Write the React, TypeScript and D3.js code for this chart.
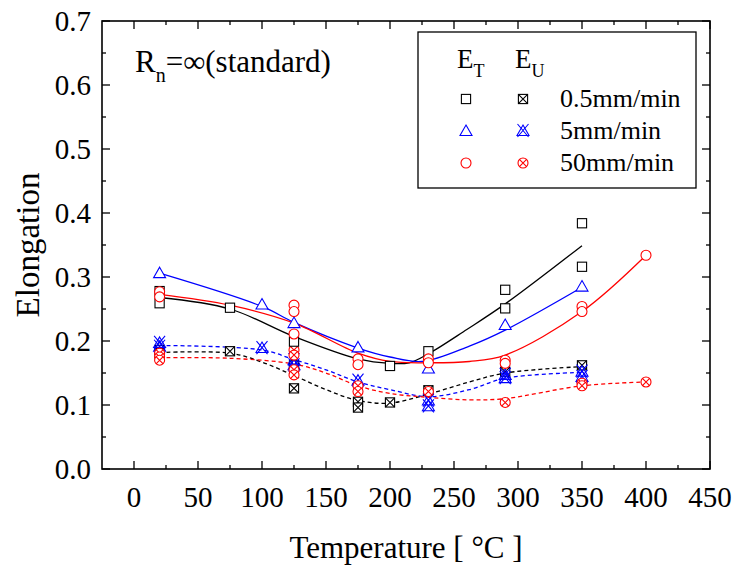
import React from "react";
import * as d3 from "d3";

// measured points: E_T (total elongation)
const etSlowT = [20, 20, 75, 125, 200, 230, 290, 290, 350, 350];
const etSlowE = [0.278, 0.259, 0.252, 0.199, 0.161, 0.184, 0.28, 0.251, 0.384, 0.316];
const etMidT = [20, 100, 125, 175, 230, 290, 350];
const etMidE = [0.306, 0.257, 0.228, 0.19, 0.157, 0.225, 0.285];
const etFastT = [20, 20, 125, 125, 125, 175, 175, 230, 230, 290, 290, 350, 350, 400];
const etFastE = [0.277, 0.269, 0.256, 0.246, 0.211, 0.172, 0.163, 0.172, 0.166, 0.17, 0.165, 0.254, 0.246, 0.334];

// measured points: E_U (uniform elongation)
const euSlowT = [20, 20, 75, 125, 125, 175, 175, 200, 230, 290, 350];
const euSlowE = [0.186, 0.181, 0.184, 0.162, 0.126, 0.105, 0.096, 0.104, 0.123, 0.152, 0.162];
const euMidT = [20, 20, 100, 125, 125, 175, 230, 230, 290, 290, 350, 350];
const euMidE = [0.197, 0.191, 0.189, 0.17, 0.162, 0.138, 0.107, 0.098, 0.147, 0.142, 0.152, 0.144];
const euFastT = [20, 20, 20, 125, 125, 125, 125, 175, 175, 230, 290, 350, 350, 400];
const euFastE = [0.181, 0.175, 0.17, 0.186, 0.178, 0.155, 0.147, 0.13, 0.121, 0.121, 0.104, 0.134, 0.13, 0.136];

// fitted curves
const fitEtSlowT = [20, 75, 125, 175, 200, 215, 230, 260, 290, 350];
const fitEtSlowE = [0.268, 0.25, 0.207, 0.172, 0.165, 0.166, 0.18, 0.218, 0.258, 0.349];
const fitEtMidT = [20, 100, 125, 175, 200, 225, 262, 290, 350];
const fitEtMidE = [0.306, 0.254, 0.229, 0.189, 0.175, 0.168, 0.192, 0.217, 0.284];
const fitEtFastT = [20, 75, 125, 175, 200, 230, 262, 290, 350, 400];
const fitEtFastE = [0.273, 0.256, 0.228, 0.181, 0.168, 0.166, 0.168, 0.178, 0.246, 0.334];
const fitEuSlowT = [20, 75, 100, 125, 150, 175, 200, 230, 262, 290, 350];
const fitEuSlowE = [0.182, 0.181, 0.167, 0.146, 0.124, 0.107, 0.103, 0.117, 0.136, 0.15, 0.16];
const fitEuMidT = [20, 100, 125, 150, 175, 200, 230, 262, 290, 350];
const fitEuMidE = [0.193, 0.186, 0.171, 0.155, 0.136, 0.124, 0.113, 0.124, 0.142, 0.151];
const fitEuFastT = [20, 75, 125, 150, 175, 200, 230, 262, 290, 350, 400];
const fitEuFastE = [0.174, 0.173, 0.164, 0.15, 0.13, 0.118, 0.112, 0.108, 0.11, 0.13, 0.136];

const rateLabels = ["0.5mm/min", "5mm/min", "50mm/min"];
const rateColors = ["#000000", "#0000ff", "#ff0000"];
const xTicks = [0, 50, 100, 150, 200, 250, 300, 350, 400, 450];
const yTicks = [0, 0.1, 0.2, 0.3, 0.4, 0.5, 0.6, 0.7];

const W = 736;
const H = 566;
const left = 102;
const right = 710;
const top = 21;
const bottom = 469;
const FONT = "Times New Roman, Times, Tinos, Liberation Serif, Nimbus Roman, FreeSerif, Noto Serif, DejaVu Serif, serif";

const x = d3.scaleLinear().domain([-25, 450]).range([left, right]);
const y = d3.scaleLinear().domain([0, 0.7]).range([bottom, top]);

type Kind = "square" | "triangle" | "circle";

function Marker({ kind, cx, cy, color, cross }: { kind: Kind; cx: number; cy: number; color: string; cross: boolean }) {
  const sw = 1.1;
  if (kind === "square") {
    const h = 4.6;
    return (
      <g stroke={color} strokeWidth={sw} fill="#fff">
        <rect x={cx - h} y={cy - h} width={2 * h} height={2 * h} />
        {cross && (
          <path d={`M${cx - h},${cy - h}L${cx + h},${cy + h}M${cx - h},${cy + h}L${cx + h},${cy - h}`} fill="none" />
        )}
      </g>
    );
  }
  if (kind === "triangle") {
    const h = 6;
    const tri = `M${cx},${cy - 6}L${cx + h},${cy + 4.5}L${cx - h},${cy + 4.5}Z`;
    return (
      <g stroke={color} strokeWidth={sw} fill={cross ? "none" : "#fff"}>
        <path d={tri} />
        {cross && (
          <path d={`M${cx - 5.5},${cy - 7}L${cx + 5.5},${cy + 6}M${cx - 5.5},${cy + 6}L${cx + 5.5},${cy - 7}`} />
        )}
      </g>
    );
  }
  const r = 5;
  const d = r * 0.72;
  return (
    <g stroke={color} strokeWidth={sw} fill="#fff">
      <circle cx={cx} cy={cy} r={r} />
      {cross && <path d={`M${cx - d},${cy - d}L${cx + d},${cy + d}M${cx - d},${cy + d}L${cx + d},${cy - d}`} />}
    </g>
  );
}

const line = d3
  .line<[number, number]>()
  .x((d) => x(d[0]))
  .y((d) => y(d[1]))
  .curve(d3.curveCatmullRom.alpha(0.5));

const zip = (a: number[], b: number[]) => a.map((v, i) => [v, b[i]] as [number, number]);

export default function App() {
  const fits = [
    { pts: zip(fitEtSlowT, fitEtSlowE), color: rateColors[0], dash: false },
    { pts: zip(fitEtMidT, fitEtMidE), color: rateColors[1], dash: false },
    { pts: zip(fitEtFastT, fitEtFastE), color: rateColors[2], dash: false },
    { pts: zip(fitEuSlowT, fitEuSlowE), color: rateColors[0], dash: true },
    { pts: zip(fitEuMidT, fitEuMidE), color: rateColors[1], dash: true },
    { pts: zip(fitEuFastT, fitEuFastE), color: rateColors[2], dash: true },
  ];
  const kinds: Kind[] = ["square", "triangle", "circle"];
  const points = [
    { pts: zip(euSlowT, euSlowE), k: 0, cross: true },
    { pts: zip(euMidT, euMidE), k: 1, cross: true },
    { pts: zip(euFastT, euFastE), k: 2, cross: true },
    { pts: zip(etSlowT, etSlowE), k: 0, cross: false },
    { pts: zip(etMidT, etMidE), k: 1, cross: false },
    { pts: zip(etFastT, etFastE), k: 2, cross: false },
  ];

  const xMinor = d3.range(25, 450, 50);
  const yMinor = d3.range(0.05, 0.7, 0.1);

  return (
    <svg width={W} height={H} style={{ display: "block", position: "absolute", left: 0, top: 0 }}>
      <rect width={W} height={H} fill="#fff" />

      {/* fitted curves */}
      {fits.map((f, i) => (
        <path
          key={i}
          d={line(f.pts) || ""}
          fill="none"
          stroke={f.color}
          strokeWidth={1.3}
          strokeDasharray={f.dash ? "4,3" : undefined}
        />
      ))}

      {/* markers */}
      {points.map((s, i) =>
        s.pts.map((p, j) => (
          <Marker key={`${i}-${j}`} kind={kinds[s.k]} cx={x(p[0])} cy={y(p[1])} color={rateColors[s.k]} cross={s.cross} />
        ))
      )}

      {/* frame and ticks */}
      <rect x={left} y={top} width={right - left} height={bottom - top} fill="none" stroke="#000" strokeWidth={1.6} />
      <g stroke="#000" strokeWidth={1.3}>
        {xTicks.map((t) => (
          <g key={t}>
            <line x1={x(t)} x2={x(t)} y1={bottom} y2={bottom - 8} />
            <line x1={x(t)} x2={x(t)} y1={top} y2={top + 8} />
          </g>
        ))}
        {xMinor.map((t) => (
          <g key={t}>
            <line x1={x(t)} x2={x(t)} y1={bottom} y2={bottom - 4} />
            <line x1={x(t)} x2={x(t)} y1={top} y2={top + 4} />
          </g>
        ))}
        {yTicks.map((t) => (
          <g key={t}>
            <line x1={left} x2={left + 8} y1={y(t)} y2={y(t)} />
            <line x1={right} x2={right - 8} y1={y(t)} y2={y(t)} />
          </g>
        ))}
        {yMinor.map((t) => (
          <g key={t}>
            <line x1={left} x2={left + 4} y1={y(t)} y2={y(t)} />
            <line x1={right} x2={right - 4} y1={y(t)} y2={y(t)} />
          </g>
        ))}
      </g>

      <g fontFamily={FONT}>
        {/* tick labels */}
        {xTicks.map((t) => (
          <text key={t} x={x(t)} y={507} textAnchor="middle" fontSize={29}>
            {t}
          </text>
        ))}
        {yTicks.map((t) => (
          <text key={t} x={91} y={y(t) + 10} textAnchor="end" fontSize={29}>
            {t.toFixed(1)}
          </text>
        ))}

        {/* axis titles */}
        <text x={(left + right) / 2} y={558} textAnchor="middle" fontSize={31}>
          Temperature [ °C ]
        </text>
        <text transform={`translate(39, ${(top + bottom) / 2}) rotate(-90)`} textAnchor="middle" fontSize={33}>
          Elongation
        </text>

        {/* annotation */}
        <text x={135} y={72} fontSize={31}>
          R
          <tspan fontSize={20} dy={10}>n</tspan>
          <tspan dy={-10}>=∞(standard)</tspan>
        </text>

        {/* legend */}
        <rect x={418} y={32} width={278} height={156} fill="#fff" stroke="#000" strokeWidth={1.3} />
        <text x={457} y={68} fontSize={27}>
          E<tspan fontSize={18} dy={9}>T</tspan>
        </text>
        <text x={515} y={68} fontSize={27}>
          E<tspan fontSize={18} dy={9}>U</tspan>
        </text>
        {rateLabels.map((lab, i) => {
          const ry = 99 + i * 32;
          return (
            <g key={lab}>
              <Marker kind={kinds[i]} cx={466} cy={ry} color={rateColors[i]} cross={false} />
              <Marker kind={kinds[i]} cx={523} cy={ry} color={rateColors[i]} cross={true} />
              <text x={560} y={ry + 8} fontSize={26}>
                {lab}
              </text>
            </g>
          );
        })}
      </g>
    </svg>
  );
}
